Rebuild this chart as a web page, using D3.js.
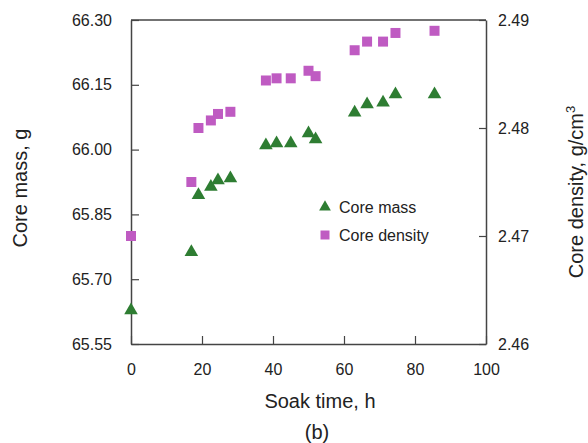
<!DOCTYPE html>
<meta charset="utf-8">
<script src="https://d3js.org/d3.v7.min.js"></script>
<style>
  body { margin: 0; background: #fff; }
  text { font-family: "Liberation Sans", Arial, sans-serif; fill: #222; }
</style>
<div id="chart"></div>
<script>
// soak time (h) and the two measured series
var soakTime = [0, 17, 19, 22.5, 24.5, 28, 38, 41, 45, 50, 52, 63, 66.5, 71, 74.5, 85.5];
var coreMass = [65.63, 65.765, 65.897, 65.916, 65.931, 65.936, 66.012, 66.017, 66.017, 66.040, 66.026, 66.088, 66.107, 66.111, 66.130, 66.130];
var coreDensity = [2.470, 2.475, 2.480, 2.4807, 2.4813, 2.4815, 2.4844, 2.4846, 2.4846, 2.4853, 2.4848, 2.4872, 2.4880, 2.4880, 2.4888, 2.4890];

var xTicks = [0, 20, 40, 60, 80, 100];
var massTicks = [65.55, 65.70, 65.85, 66.00, 66.15, 66.30];
var densTicks = [2.46, 2.47, 2.48, 2.49];

var W = 588, H = 443;
var margin = {top: 20, right: 102, bottom: 99, left: 131},
    width = W - margin.left - margin.right,
    height = H - margin.top - margin.bottom;

var green = "#2e7d32", purple = "#bf5bc2", axisColor = "#444";

var svg = d3.select("#chart").append("svg")
    .attr("width", W)
    .attr("height", H);

var g = svg.append("g")
    .attr("transform", "translate(" + margin.left + "," + margin.top + ")");

var x = d3.scaleLinear().domain([0, 100]).range([0, width]);
var yM = d3.scaleLinear().domain([65.55, 66.30]).range([height, 0]);
var yD = d3.scaleLinear().domain([2.46, 2.49]).range([height, 0]);

function styleAxis(sel) {
  sel.select(".domain").attr("stroke", axisColor).attr("stroke-width", 1.5);
  sel.selectAll(".tick line").attr("stroke", axisColor).attr("stroke-width", 1.2);
  sel.selectAll(".tick text")
    .style("font-family", "'Liberation Sans', Arial, sans-serif")
    .style("font-size", "16px")
    .attr("fill", "#222");
}

// top frame line
g.append("line")
  .attr("x1", 0).attr("x2", width)
  .attr("y1", 0).attr("y2", 0)
  .attr("stroke", axisColor).attr("stroke-width", 1.5);

g.append("g")
  .attr("transform", "translate(0," + height + ")")
  .call(d3.axisBottom(x).tickValues(xTicks).tickSize(-8).tickSizeOuter(0).tickPadding(20).tickFormat(d3.format("d")))
  .call(styleAxis);

g.append("g")
  .call(d3.axisLeft(yM).tickValues(massTicks).tickSize(-8).tickSizeOuter(0).tickPadding(19).tickFormat(d3.format(".2f")))
  .call(styleAxis);

g.append("g")
  .attr("transform", "translate(" + width + ",0)")
  .call(d3.axisRight(yD).tickValues(densTicks).tickSize(-7).tickSizeOuter(0).tickPadding(12).tickFormat(d3.format(".2f")))
  .call(styleAxis);

var tri = d3.symbol().type(d3.symbolTriangle).size(80);
var sq = d3.symbol().type(d3.symbolSquare).size(100);

g.append("g").selectAll("path")
  .data(soakTime.map(function(t, i) { return [t, coreDensity[i]]; }))
  .enter().append("path")
    .attr("d", sq)
    .attr("transform", function(d) { return "translate(" + x(d[0]) + "," + yD(d[1]) + ")"; })
    .attr("fill", purple);

g.append("g").selectAll("path")
  .data(soakTime.map(function(t, i) { return [t, coreMass[i]]; }))
  .enter().append("path")
    .attr("d", tri)
    .attr("transform", function(d) { return "translate(" + x(d[0]) + "," + (yM(d[1]) + 1) + ")"; })
    .attr("fill", green);

// legend
var leg = g.append("g").attr("transform", "translate(194,187)");
leg.append("path").attr("d", d3.symbol().type(d3.symbolTriangle).size(60))
  .attr("fill", green);
leg.append("text").attr("x", 14).attr("y", 6).style("font-size", "16px").text("Core mass");
leg.append("path").attr("d", d3.symbol().type(d3.symbolSquare).size(81))
  .attr("transform", "translate(0,28)").attr("fill", purple);
leg.append("text").attr("x", 14).attr("y", 34).style("font-size", "16px").text("Core density");

// axis titles
svg.append("text")
  .attr("transform", "translate(27,188) rotate(-90)")
  .attr("text-anchor", "middle")
  .style("font-size", "20px")
  .text("Core mass, g");

var rt = svg.append("text")
  .attr("transform", "translate(583,192) rotate(-90)")
  .attr("text-anchor", "middle")
  .style("font-size", "20px");
rt.append("tspan").text("Core density, g/cm");
rt.append("tspan").attr("dy", -8).style("font-size", "13px").text("3");

svg.append("text")
  .attr("x", 320).attr("y", 408)
  .attr("text-anchor", "middle")
  .style("font-size", "20px")
  .text("Soak time, h");

svg.append("text")
  .attr("x", 317).attr("y", 439)
  .attr("text-anchor", "middle")
  .style("font-size", "20px")
  .text("(b)");
</script>
